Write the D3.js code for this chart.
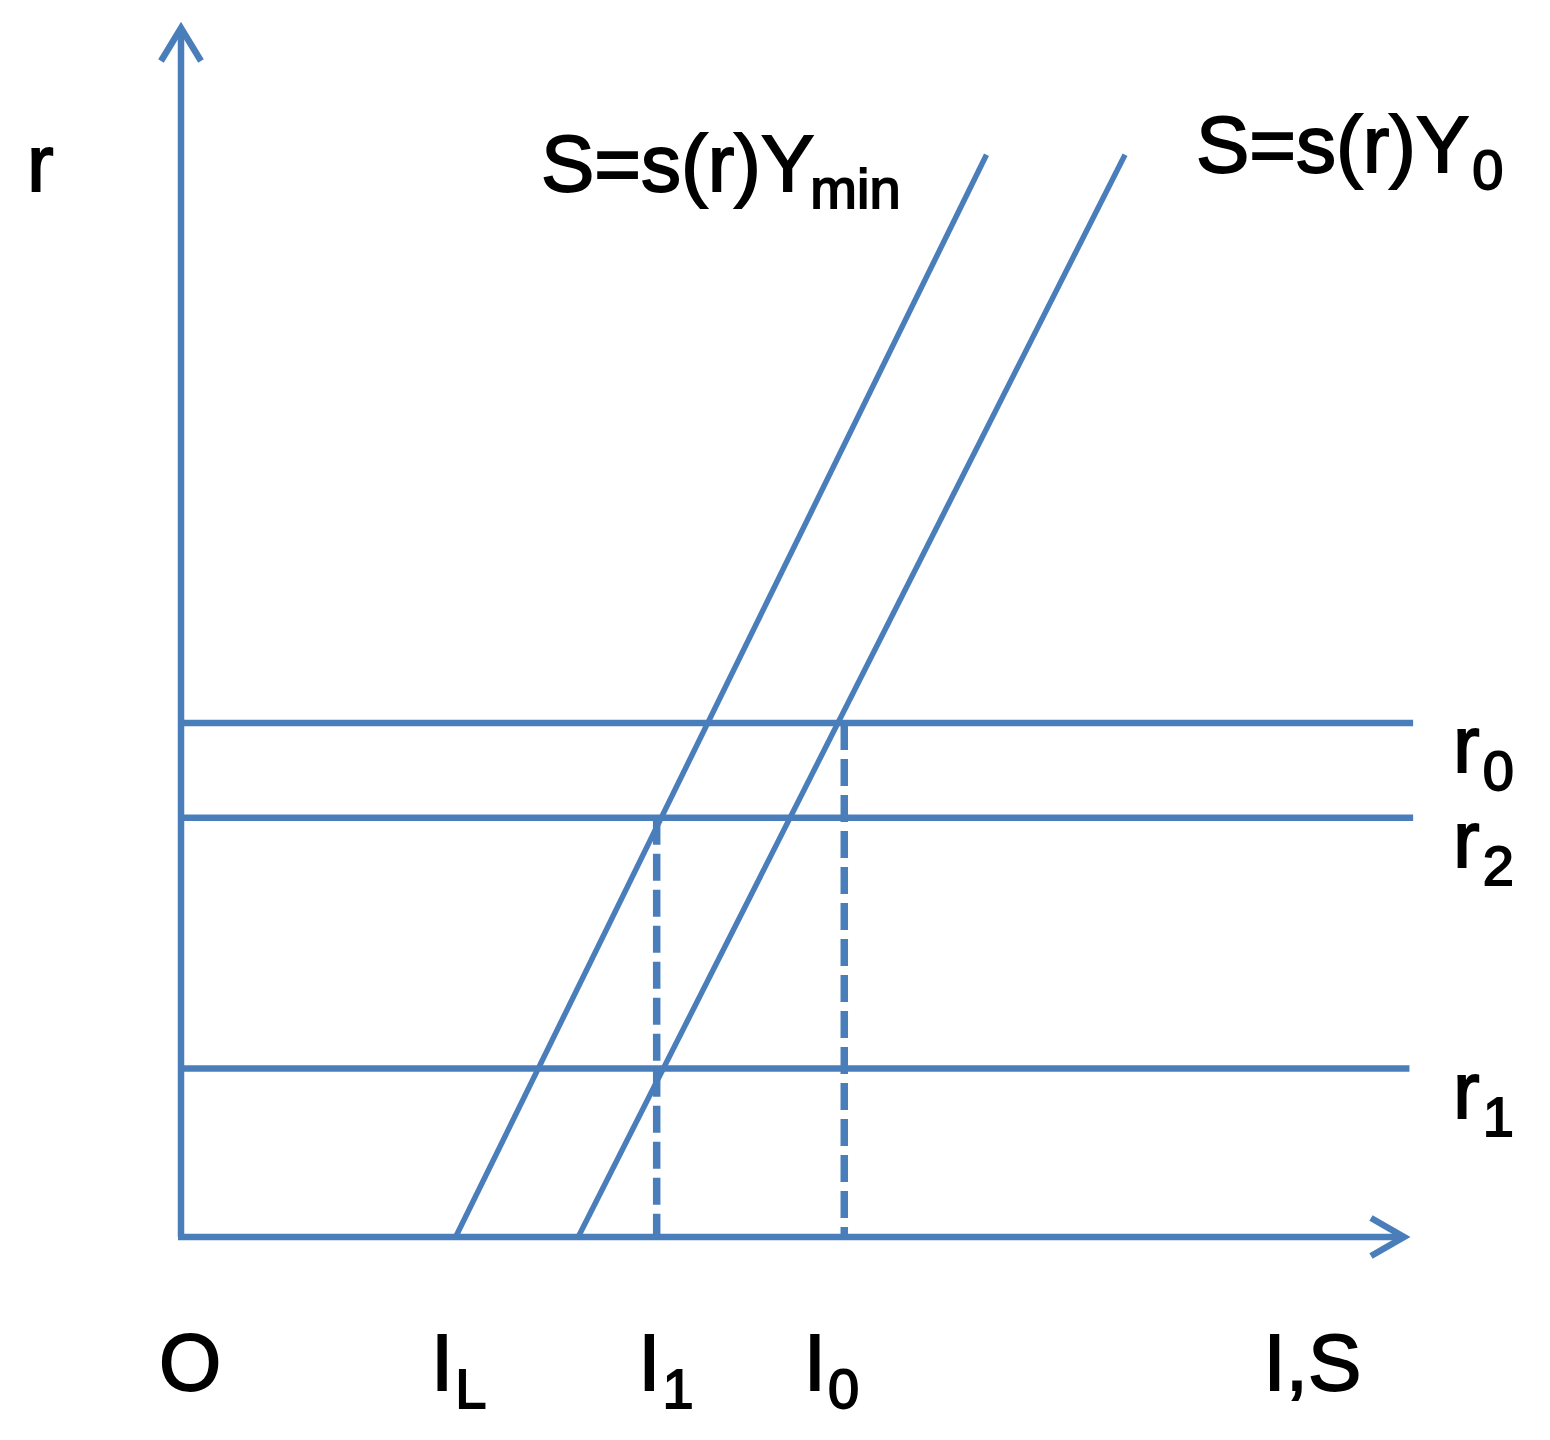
<!DOCTYPE html>
<html>
<head>
<meta charset="utf-8">
<script src="https://cdn.jsdelivr.net/npm/d3@7"></script>
<style>
  html, body { margin: 0; padding: 0; background: #fff; }
  svg text { font-family: "Liberation Sans", Arial, sans-serif; fill: #000; stroke: #000; stroke-width: 1.8px; }
</style>
</head>
<body>
<script>
// ---- data (abstract units: I,S on x from 0..100, r on y from 0..100) ----
const axisMax = { x: 100, y: 100 };
// horizontal interest-rate lines
const rateNames  = ["r0", "r2", "r1"];
const rateValues = [42.4, 34.6, 13.9];
const rateEnds   = [100.5, 100.5, 100.2];
const rateSubs   = ["0", "2", "1"];
// saving curves S = s(r)Y : [bottom point, top point]
const savingNames = ["S=s(r)Ymin", "S=s(r)Y0"];
const savingMinX  = [22.4, 65.7];
const savingMinY  = [0, 89.3];
const saving0X    = [32.4, 77.0];
const saving0Y    = [0, 89.3];
// dashed drop lines: investment level and the rate they start from
const dropX     = [38.8, 54.1];
const dropFromY = [34.6, 42.4];
// x-axis labels
const xLabelMain = ["O", "I", "I", "I", "I,S"];
const xLabelSub  = ["", "L", "1", "0", ""];
const xLabelPos  = [-1.8, 20.4, 37.3, 50.8, 88.3];

const W = 1550, H = 1440;
const color = "#4a7ebb";

const svg = d3.select("body").append("svg")
  .attr("width", W).attr("height", H);

const x = d3.scaleLinear().domain([0, axisMax.x]).range([181, 1407]);
const y = d3.scaleLinear().domain([0, axisMax.y]).range([1237, 25]);

// ---- axes with open arrowheads ----
const ax = svg.append("g").attr("fill", "none").attr("stroke", color)
  .attr("stroke-width", 6.5);
ax.append("line").attr("x1", x(0)).attr("y1", y(0)).attr("x2", x(0)).attr("y2", y(axisMax.y) + 3);
ax.append("line").attr("x1", x(0) - 3).attr("y1", y(0)).attr("x2", x(axisMax.x) - 3).attr("y2", y(0));
ax.append("path")
  .attr("stroke-linejoin", "miter")
  .attr("d", `M${x(0) - 20},${y(axisMax.y) + 36} L${x(0)},${y(axisMax.y) + 3} L${x(0) + 20},${y(axisMax.y) + 36}`);
ax.append("path")
  .attr("stroke-linejoin", "miter")
  .attr("d", `M${x(axisMax.x) - 36},${y(0) - 19} L${x(axisMax.x) - 3},${y(0)} L${x(axisMax.x) - 36},${y(0) + 19}`);

// ---- horizontal rate lines ----
svg.append("g").selectAll("line").data(rateValues).join("line")
  .attr("x1", x(0)).attr("x2", (d, i) => x(rateEnds[i]))
  .attr("y1", d => y(d)).attr("y2", d => y(d))
  .attr("stroke", color).attr("stroke-width", 6.5);

// ---- dashed drop lines ----
svg.append("g").selectAll("line").data(dropX).join("line")
  .attr("x1", d => x(d)).attr("x2", d => x(d))
  .attr("y1", (d, i) => y(dropFromY[i])).attr("y2", y(0))
  .attr("stroke", color).attr("stroke-width", 7.5)
  .attr("stroke-dasharray", "27 9");

// ---- saving curves ----
const line = d3.line().x(d => x(d[0])).y(d => y(d[1]));
const curves = [
  d3.zip(savingMinX, savingMinY),
  d3.zip(saving0X, saving0Y)
];
svg.append("g").selectAll("path").data(curves).join("path")
  .attr("d", line)
  .attr("fill", "none").attr("stroke", color).attr("stroke-width", 5.5);

// ---- labels ----
const big = 80, small = 56;
function subLabel(px, py, main, sub, subDx, subDy) {
  const t = svg.append("text").attr("x", px).attr("y", py).attr("font-size", big);
  t.append("tspan").text(main);
  if (sub) t.append("tspan").attr("font-size", small).attr("dx", subDx).attr("dy", subDy).text(sub);
  return t;
}
// y-axis title
subLabel(27, 191, "r", "", 0, 0);
// curve labels
subLabel(541, 191, "S=s(r)Y", "min", -4, 17);
subLabel(1196, 172, "S=s(r)Y", "0", 3, 17);
// rate labels
rateValues.forEach((v, i) => {
  subLabel(1453, y(v) + 49, "r", rateSubs[i], 3, 18);
});
// x labels
xLabelMain.forEach((m, i) => {
  subLabel(x(xLabelPos[i]), 1390, m, xLabelSub[i], 2, 18);
});
</script>
</body>
</html>
